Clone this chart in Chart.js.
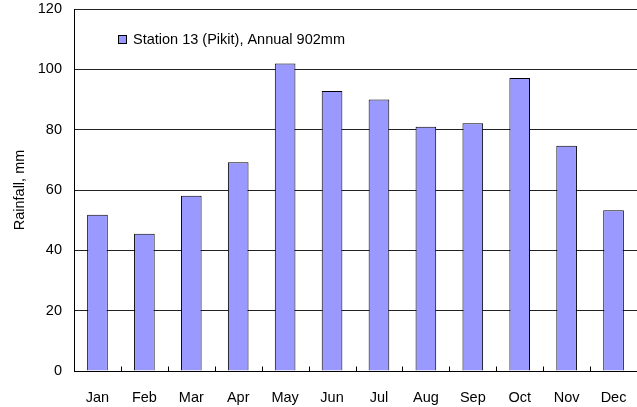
<!DOCTYPE html>
<html><head><meta charset="utf-8">
<script src="https://cdn.jsdelivr.net/npm/chart.js@4/dist/chart.umd.min.js"></script>
<style>html,body{margin:0;padding:0;background:#fff}#c{display:block}</style>
</head><body>
<canvas id="c" width="637" height="407"></canvas>
<script>
const months = ['Jan','Feb','Mar','Apr','May','Jun','Jul','Aug','Sep','Oct','Nov','Dec'];
const rainfall = [51.8, 45.5, 58.1, 69.2, 101.9, 92.8, 90.0, 81.0, 82.1, 97.1, 74.7, 53.3];
const seriesLabel = 'Station 13 (Pikit), Annual 902mm';
const yTickValues = [0, 20, 40, 60, 80, 100, 120];
const yTitle = 'Rainfall, mm';

const FONT = '"Liberation Sans", Arial, sans-serif';
const FSIZE = 14.5;

const innerLegend = {
  id: 'innerLegend',
  afterDraw(chart) {
    const ctx = chart.ctx;
    const ds = chart.data.datasets[0];
    ctx.save();
    ctx.fillStyle = ds.backgroundColor;
    ctx.strokeStyle = '#000';
    ctx.lineWidth = 1;
    ctx.fillRect(118.5, 35.5, 8, 8);
    ctx.strokeRect(118.5, 35.5, 8, 8);
    ctx.fillStyle = '#000';
    ctx.font = FSIZE + 'px ' + FONT;
    ctx.textBaseline = 'middle';
    ctx.textAlign = 'left';
    ctx.fillText(ds.label, 133, 40);
    ctx.restore();
  }
};

const innerTicks = {
  id: 'innerTicks',
  afterDatasetsDraw(chart) {
    const xs = chart.scales.x, ys = chart.scales.y;
    const ctx = chart.ctx;
    const y0 = Math.round(ys.getPixelForValue(0)) + 0.5;
    ctx.save();
    ctx.strokeStyle = '#000';
    ctx.lineWidth = 1;
    ctx.beginPath();
    for (let i = 1; i < months.length; i++) {
      const x = Math.round((xs.getPixelForTick(i - 1) + xs.getPixelForTick(i)) / 2) + 0.5;
      ctx.moveTo(x, y0);
      ctx.lineTo(x, y0 - 5);
    }
    ctx.stroke();
    ctx.restore();
  }
};

new Chart(document.getElementById('c'), {
  type: 'bar',
  data: {
    labels: months,
    datasets: [{
      label: seriesLabel,
      data: rainfall,
      backgroundColor: '#9999FF',
      borderColor: '#000',
      borderWidth: 1,
      barPercentage: 0.44,
      categoryPercentage: 1.0
    }]
  },
  options: {
    responsive: false,
    animation: false,
    devicePixelRatio: 1,
    layout: { autoPadding: false, padding: { top: 9, right: 0, bottom: 0, left: 0 } },
    plugins: { legend: { display: false }, tooltip: { enabled: false } },
    scales: {
      x: {
        grid: { display: false, drawTicks: false },
        border: { display: true, color: '#000', width: 1 },
        ticks: { color: '#000', font: { family: FONT, size: FSIZE }, padding: 18, maxRotation: 0 },
        afterFit(s) { s.height = 36; s.paddingLeft = 0; s.paddingRight = 0; }
      },
      y: {
        min: yTickValues[0],
        max: yTickValues[yTickValues.length - 1],
        afterBuildTicks(s) { s.ticks = yTickValues.map(v => ({ value: v })); },
        grid: { color: '#222', lineWidth: 1, drawTicks: false },
        border: { display: true, color: '#000', width: 1 },
        ticks: { color: '#000', font: { family: FONT, size: FSIZE }, padding: 12 },
        title: { display: true, text: yTitle, color: '#000', font: { family: FONT, size: FSIZE }, padding: { top: 11, bottom: 0 } },
        afterFit(s) { s.width = 74; s.paddingTop = 0; s.paddingBottom = 0; }
      }
    }
  },
  plugins: [innerTicks, innerLegend]
});
</script>
</body></html>
